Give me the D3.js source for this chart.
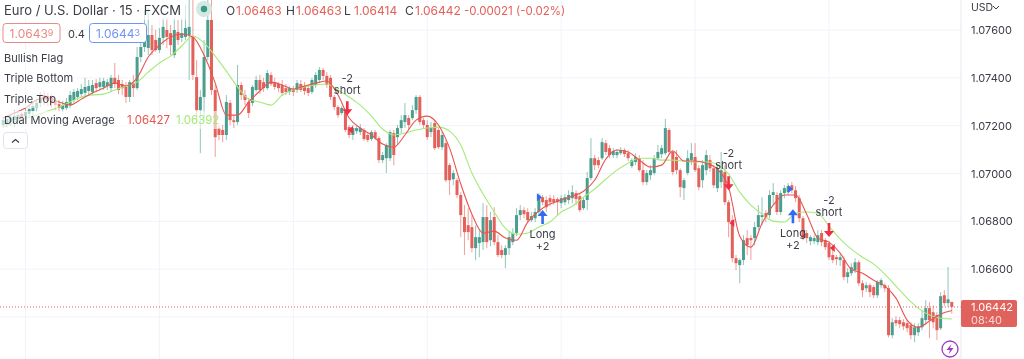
<!DOCTYPE html>
<html>
<head>
<meta charset="utf-8">
<script src="https://cdn.jsdelivr.net/npm/d3@7"></script>
<style>
  html, body { margin: 0; padding: 0; background: #fff; overflow: hidden; }
  svg { display: block; filter: blur(0.4px); font-family: Inter, "Open Sans", sans-serif; }
</style>
</head>
<body>
<div id="chart"></div>
<script>
// EUR/USD 15 min candles
var opens = [
1.07203,1.07207,1.07215,1.07223,1.07228,1.07249,1.07240,1.07249,1.07261,1.07274,
1.07295,1.07328,1.07324,1.07316,1.07303,1.07290,1.07269,1.07274,1.07286,1.07307,
1.07320,1.07332,1.07337,1.07345,1.07341,1.07378,1.07362,1.07362,1.07366,1.07357,
1.07400,1.07391,1.07374,1.07362,1.07320,1.07378,1.07357,1.07487,1.07529,1.07525,
1.07579,1.07558,1.07516,1.07567,1.07600,1.07587,1.07495,1.07592,1.07567,1.07571,
1.07579,1.07571,1.07403,1.07265,1.07320,1.07487,1.07642,1.07349,1.07190,1.07182,
1.07161,1.07295,1.07223,1.07215,1.07370,1.07328,1.07299,1.07295,1.07349,1.07391,
1.07382,1.07357,1.07412,1.07382,1.07374,1.07370,1.07357,1.07341,1.07353,1.07349,
1.07374,1.07366,1.07357,1.07341,1.07370,1.07391,1.07433,1.07408,1.07400,1.07320,
1.07278,1.07253,1.07257,1.07194,1.07161,1.07177,1.07173,1.07182,1.07161,1.07144,
1.07173,1.07148,1.07056,1.07064,1.07064,1.07169,1.07152,1.07190,1.07215,1.07232,
1.07232,1.07265,1.07320,1.07223,1.07203,1.07173,1.07211,1.07182,1.07110,1.07127,
1.07035,1.06976,1.06972,1.06910,1.06818,1.06784,1.06776,1.06688,1.06709,1.06713,
1.06818,1.06721,1.06818,1.06713,1.06680,1.06659,1.06688,1.06713,1.06751,1.06826,
1.06847,1.06839,1.06805,1.06813,1.06839,1.06901,1.06889,1.06897,1.06893,1.06893,
1.06876,1.06880,1.06889,1.06897,1.06918,1.06905,1.06855,1.06889,1.06981,1.07064,
1.07056,1.07064,1.07127,1.07106,1.07077,1.07077,1.07085,1.07098,1.07085,1.07031,
1.07048,1.07064,1.07014,1.06964,1.06993,1.07002,1.07064,1.07081,1.07085,1.07182,
1.07090,1.07069,1.07014,1.06939,1.07002,1.07056,1.07069,1.07022,1.06972,1.07014,
1.07056,1.07022,1.06939,1.06964,1.07006,1.06880,1.06805,1.06646,1.06617,1.06638,
1.06730,1.06730,1.06730,1.06776,1.06818,1.06834,1.06826,1.06910,1.06910,1.06839,
1.06918,1.06922,1.06951,1.06930,1.06897,1.06813,1.06751,1.06717,1.06717,1.06713,
1.06751,1.06721,1.06709,1.06659,1.06650,1.06638,1.06638,1.06567,1.06583,1.06596,
1.06629,1.06541,1.06520,1.06533,1.06525,1.06491,1.06533,1.06533,1.06520,1.06324,
1.06387,1.06387,1.06378,1.06374,1.06366,1.06324,1.06336,1.06357,1.06387,1.06437,
1.06420,1.06408,1.06353,1.06491,1.06458,1.06463
];
var highs = [
1.07236,1.07240,1.07249,1.07265,1.07257,1.07257,1.07274,1.07286,1.07299,1.07316,
1.07341,1.07345,1.07337,1.07332,1.07320,1.07307,1.07303,1.07316,1.07345,1.07353,
1.07357,1.07374,1.07400,1.07391,1.07391,1.07395,1.07400,1.07400,1.07395,1.07412,
1.07462,1.07412,1.07391,1.07382,1.07391,1.07412,1.07529,1.07621,1.07684,1.07692,
1.07621,1.07600,1.07608,1.07650,1.07650,1.07621,1.07650,1.07642,1.07650,1.07705,
1.07726,1.07726,1.07474,1.07349,1.07558,1.07726,1.07726,1.07370,1.07203,1.07203,
1.07328,1.07307,1.07244,1.07454,1.07382,1.07349,1.07316,1.07370,1.07408,1.07412,
1.07400,1.07433,1.07424,1.07400,1.07382,1.07391,1.07374,1.07366,1.07366,1.07391,
1.07391,1.07382,1.07370,1.07400,1.07424,1.07445,1.07441,1.07424,1.07412,1.07328,
1.07286,1.07282,1.07265,1.07203,1.07203,1.07198,1.07207,1.07190,1.07169,1.07182,
1.07182,1.07156,1.07090,1.07127,1.07182,1.07182,1.07203,1.07244,1.07295,1.07244,
1.07286,1.07328,1.07328,1.07232,1.07223,1.07215,1.07223,1.07190,1.07173,1.07140,
1.07043,1.07014,1.06981,1.06922,1.06868,1.06855,1.06826,1.06784,1.06763,1.06876,
1.06868,1.06839,1.06859,1.06742,1.06700,1.06700,1.06755,1.06771,1.06855,1.06868,
1.06859,1.06855,1.06839,1.06855,1.06918,1.06910,1.06905,1.06910,1.06910,1.06901,
1.06910,1.06914,1.06930,1.06951,1.06930,1.06918,1.06901,1.07006,1.07148,1.07077,
1.07069,1.07148,1.07140,1.07119,1.07106,1.07102,1.07110,1.07106,1.07098,1.07064,
1.07085,1.07077,1.07056,1.07014,1.07035,1.07077,1.07119,1.07119,1.07228,1.07190,
1.07098,1.07098,1.07022,1.06981,1.07098,1.07127,1.07127,1.07035,1.07056,1.07098,
1.07077,1.07035,1.07035,1.07090,1.07035,1.06889,1.06826,1.06659,1.06646,1.06742,
1.06763,1.06742,1.06797,1.06868,1.06901,1.06847,1.06930,1.06960,1.06922,1.06930,
1.06951,1.06960,1.06964,1.06947,1.06910,1.06822,1.06763,1.06742,1.06742,1.06763,
1.06763,1.06730,1.06717,1.06680,1.06659,1.06663,1.06654,1.06604,1.06625,1.06646,
1.06638,1.06554,1.06546,1.06541,1.06533,1.06554,1.06562,1.06541,1.06533,1.06395,
1.06403,1.06399,1.06391,1.06387,1.06378,1.06374,1.06374,1.06428,1.06470,1.06462,
1.06449,1.06420,1.06504,1.06512,1.06609,1.06463
];
var lows = [
1.07190,1.07194,1.07198,1.07194,1.07211,1.07215,1.07223,1.07232,1.07244,1.07257,
1.07278,1.07286,1.07282,1.07274,1.07265,1.07261,1.07257,1.07265,1.07274,1.07295,
1.07307,1.07316,1.07324,1.07328,1.07328,1.07341,1.07349,1.07349,1.07349,1.07341,
1.07357,1.07332,1.07328,1.07295,1.07299,1.07320,1.07349,1.07466,1.07508,1.07495,
1.07495,1.07508,1.07504,1.07537,1.07525,1.07495,1.07483,1.07537,1.07550,1.07558,
1.07391,1.07391,1.07223,1.07085,1.07223,1.07474,1.07328,1.07069,1.07140,1.07131,
1.07140,1.07203,1.07190,1.07203,1.07307,1.07286,1.07232,1.07282,1.07341,1.07332,
1.07341,1.07349,1.07366,1.07349,1.07341,1.07324,1.07328,1.07328,1.07324,1.07337,
1.07341,1.07328,1.07324,1.07332,1.07357,1.07378,1.07391,1.07357,1.07307,1.07265,
1.07232,1.07244,1.07173,1.07148,1.07140,1.07165,1.07161,1.07136,1.07131,1.07136,
1.07140,1.07043,1.07043,1.07002,1.07052,1.07035,1.07119,1.07169,1.07190,1.07182,
1.07223,1.07249,1.07203,1.07190,1.07140,1.07152,1.07098,1.07102,1.07098,1.06964,
1.06910,1.06951,1.06897,1.06734,1.06659,1.06721,1.06671,1.06638,1.06650,1.06680,
1.06688,1.06696,1.06700,1.06650,1.06646,1.06604,1.06659,1.06700,1.06738,1.06805,
1.06813,1.06793,1.06797,1.06797,1.06826,1.06868,1.06839,1.06863,1.06868,1.06826,
1.06855,1.06868,1.06872,1.06876,1.06868,1.06839,1.06847,1.06847,1.06972,1.07014,
1.07022,1.07056,1.07077,1.07064,1.07064,1.07064,1.07077,1.07069,1.07052,1.07022,
1.07035,1.07006,1.06951,1.06951,1.06972,1.06993,1.07056,1.07064,1.07077,1.07077,
1.06993,1.06997,1.06901,1.06889,1.06993,1.07035,1.07006,1.06930,1.06939,1.06993,
1.07006,1.06939,1.06922,1.06939,1.06868,1.06734,1.06629,1.06596,1.06541,1.06617,
1.06659,1.06638,1.06700,1.06763,1.06784,1.06797,1.06813,1.06868,1.06826,1.06826,
1.06897,1.06910,1.06918,1.06880,1.06797,1.06721,1.06709,1.06700,1.06705,1.06700,
1.06696,1.06680,1.06638,1.06625,1.06617,1.06613,1.06554,1.06541,1.06571,1.06583,
1.06529,1.06483,1.06504,1.06483,1.06479,1.06479,1.06520,1.06504,1.06315,1.06311,
1.06361,1.06353,1.06345,1.06336,1.06307,1.06295,1.06320,1.06345,1.06366,1.06311,
1.06353,1.06303,1.06345,1.06445,1.06441,1.06414
];
var closes = [
1.07223,1.07228,1.07232,1.07240,1.07244,1.07232,1.07257,1.07269,1.07282,1.07295,
1.07316,1.07307,1.07303,1.07295,1.07286,1.07274,1.07286,1.07299,1.07328,1.07341,
1.07345,1.07353,1.07362,1.07366,1.07370,1.07357,1.07382,1.07387,1.07382,1.07400,
1.07374,1.07349,1.07357,1.07320,1.07382,1.07357,1.07487,1.07529,1.07567,1.07579,
1.07516,1.07516,1.07567,1.07613,1.07571,1.07537,1.07600,1.07558,1.07587,1.07608,
1.07613,1.07412,1.07265,1.07320,1.07487,1.07642,1.07349,1.07152,1.07161,1.07161,
1.07299,1.07223,1.07215,1.07370,1.07328,1.07307,1.07253,1.07362,1.07391,1.07349,
1.07357,1.07420,1.07374,1.07362,1.07357,1.07337,1.07341,1.07357,1.07341,1.07378,
1.07349,1.07345,1.07337,1.07391,1.07412,1.07433,1.07408,1.07370,1.07320,1.07278,
1.07244,1.07274,1.07182,1.07161,1.07190,1.07190,1.07190,1.07144,1.07140,1.07173,
1.07148,1.07056,1.07077,1.07119,1.07173,1.07077,1.07190,1.07223,1.07244,1.07203,
1.07265,1.07320,1.07215,1.07203,1.07152,1.07194,1.07106,1.07110,1.07161,1.06972,
1.06972,1.07002,1.06910,1.06826,1.06755,1.06755,1.06688,1.06734,1.06734,1.06818,
1.06713,1.06805,1.06713,1.06659,1.06659,1.06688,1.06734,1.06751,1.06826,1.06847,
1.06830,1.06805,1.06822,1.06839,1.06910,1.06880,1.06859,1.06880,1.06880,1.06880,
1.06897,1.06901,1.06910,1.06922,1.06893,1.06847,1.06889,1.06981,1.07064,1.07035,
1.07035,1.07131,1.07090,1.07077,1.07094,1.07090,1.07098,1.07081,1.07064,1.07056,
1.07069,1.07014,1.06964,1.07002,1.07014,1.07064,1.07090,1.07106,1.07190,1.07090,
1.07006,1.07014,1.06943,1.06972,1.07064,1.07085,1.07014,1.06943,1.07035,1.07077,
1.07022,1.06951,1.07022,1.07014,1.06880,1.06797,1.06646,1.06625,1.06638,1.06721,
1.06700,1.06721,1.06776,1.06826,1.06826,1.06818,1.06910,1.06922,1.06839,1.06918,
1.06939,1.06947,1.06930,1.06897,1.06813,1.06730,1.06730,1.06734,1.06730,1.06742,
1.06713,1.06692,1.06650,1.06638,1.06642,1.06650,1.06567,1.06587,1.06608,1.06629,
1.06541,1.06512,1.06533,1.06504,1.06491,1.06546,1.06554,1.06520,1.06324,1.06378,
1.06374,1.06370,1.06361,1.06353,1.06324,1.06357,1.06361,1.06395,1.06437,1.06387,
1.06378,1.06345,1.06487,1.06458,1.06474,1.06442
];

// moving averages, sampled every third candle
var maStep = 3;
var fastMA = [
1.07232,1.07253,1.07274,1.07307,1.07316,1.07299,1.07286,1.07311,1.07337,1.07357,
1.07378,1.07366,1.07400,1.07487,1.07537,1.07571,1.07583,1.07571,1.07495,1.07378,
1.07244,1.07244,1.07299,1.07345,1.07382,1.07370,1.07353,1.07366,1.07378,1.07387,
1.07328,1.07232,1.07190,1.07161,1.07123,1.07110,1.07161,1.07223,1.07240,1.07203,
1.07106,1.06956,1.06830,1.06751,1.06759,1.06730,1.06721,1.06797,1.06843,1.06872,
1.06889,1.06905,1.06926,1.06972,1.07060,1.07098,1.07090,1.07056,1.07027,1.07035,
1.07094,1.07052,1.07052,1.07043,1.07018,1.06943,1.06738,1.06692,1.06792,1.06868,
1.06910,1.06910,1.06830,1.06730,1.06713,1.06667,1.06600,1.06583,1.06554,1.06529,
1.06479,1.06387,1.06357,1.06383,1.06412,1.06427
];
var slowMA = [
1.07194,1.07215,1.07232,1.07244,1.07261,1.07278,1.07299,1.07320,1.07328,1.07332,
1.07349,1.07366,1.07382,1.07424,1.07462,1.07491,1.07533,1.07575,1.07546,1.07491,
1.07428,1.07362,1.07311,1.07299,1.07286,1.07328,1.07349,1.07362,1.07370,1.07374,
1.07349,1.07320,1.07286,1.07240,1.07186,1.07161,1.07169,1.07182,1.07190,1.07194,
1.07177,1.07119,1.07002,1.06914,1.06839,1.06771,1.06746,1.06751,1.06776,1.06797,
1.06839,1.06863,1.06901,1.06935,1.06976,1.07014,1.07043,1.07064,1.07064,1.07056,
1.07056,1.07052,1.07048,1.07048,1.07039,1.06997,1.06922,1.06868,1.06830,1.06801,
1.06797,1.06834,1.06839,1.06834,1.06780,1.06726,1.06684,1.06650,1.06621,1.06579,
1.06529,1.06479,1.06437,1.06408,1.06395,1.06392
];

var priceTicks = [1.076, 1.074, 1.072, 1.070, 1.068, 1.066, 1.064];
var priceLabels = [1.076, 1.074, 1.072, 1.070, 1.068, 1.066]; // 1.064 sits under the price tag
var timeGridBars = [6, 42, 78, 114, 150, 186, 222];
var lastPrice = 1.06442;

// strategy signals: bar, price at the arrow tip, price of the small triangle
var shortBars = [92.5, 195, 222];
var shortPrices = [1.07244, 1.06930, 1.06734];
var shortFlagBars = [93.5, 196, 223];
var shortFlagPrices = [1.07182, 1.06793, 1.06688];
var longBars = [145, 212.3];
var longPrices = [1.06847, 1.06851];
var longFlagBars = [144, 211.5];
var longFlagPrices = [1.06901, 1.06935];

var legendRows = ["Bullish Flag", "Triple Bottom", "Triple Top", "Dual Moving Average"];
var ohlcLabels = ["O", "H", "L", "C"];
var ohlcValues = ["1.06463", "1.06463", "1.06414", "1.06442"];

var upColor = "#4a9e8e", downColor = "#e4605a", gridColor = "#f0f3fa", textColor = "#3a3d45";
var fastColor = "#e8554e", slowColor = "#a3ea78", blue = "#2f6bf5", arrowRed = "#ee2f45";

var width = 1024, height = 359, axisX = 961;

var svg = d3.select("#chart").append("svg")
    .attr("width", width)
    .attr("height", height);

svg.append("rect").attr("width", width).attr("height", height).attr("fill", "#fff");

var x = d3.scaleLinear().domain([0, 255]).range([3.18, 951.78]);
var y = d3.scaleLinear().domain([1.064, 1.076]).range([317, 30]);

var bars = d3.range(opens.length);

// grid
svg.append("g").selectAll("line")
    .data(priceTicks)
    .enter().append("line")
    .attr("x1", 0).attr("x2", axisX)
    .attr("y1", function(d) { return y(d); })
    .attr("y2", function(d) { return y(d); })
    .attr("stroke", gridColor);
svg.append("g").selectAll("line")
    .data(timeGridBars)
    .enter().append("line")
    .attr("x1", function(d) { return x(d); })
    .attr("x2", function(d) { return x(d); })
    .attr("y1", 0).attr("y2", height)
    .attr("stroke", gridColor);

// candles
var candles = svg.append("g");
candles.selectAll("line")
    .data(bars)
    .enter().append("line")
    .attr("x1", function(i) { return x(i); })
    .attr("x2", function(i) { return x(i); })
    .attr("y1", function(i) { return y(highs[i]); })
    .attr("y2", function(i) { return y(lows[i]); })
    .attr("stroke", function(i) { return closes[i] >= opens[i] ? upColor : downColor; })
    .attr("stroke-opacity", 0.6)
    .attr("stroke-width", 1);
candles.selectAll("rect")
    .data(bars)
    .enter().append("rect")
    .attr("x", function(i) { return x(i) - 1.5; })
    .attr("width", 3)
    .attr("y", function(i) { return y(Math.max(opens[i], closes[i])); })
    .attr("height", function(i) { return Math.max(1, Math.abs(y(opens[i]) - y(closes[i]))); })
    .attr("fill", function(i) { return closes[i] >= opens[i] ? upColor : downColor; });

// moving averages
var maLine = d3.line()
    .x(function(d, k) { return x(k * maStep); })
    .y(function(d) { return y(d); })
    .curve(d3.curveMonotoneX);
svg.append("path").attr("d", maLine(slowMA)).attr("fill", "none").attr("stroke", slowColor).attr("stroke-width", 1.1);
svg.append("path").attr("d", maLine(fastMA)).attr("fill", "none").attr("stroke", fastColor).attr("stroke-width", 1.1);

// last price line
svg.append("line")
    .attr("x1", 0).attr("x2", axisX)
    .attr("y1", y(lastPrice)).attr("y2", y(lastPrice))
    .attr("stroke", downColor)
    .attr("stroke-dasharray", "1,2");

// signal arrows
var arrowDown = "M-1.3,-14H1.3V-6H5L0,0L-5,-6H-1.3Z";
var arrowUp = "M-1.3,14H1.3V6H5L0,0L-5,6H-1.3Z";
shortBars.forEach(function(b, k) {
    var g = svg.append("g").attr("transform", "translate(" + x(b) + "," + y(shortPrices[k]) + ")");
    g.append("path").attr("d", arrowDown).attr("fill", arrowRed);
    g.append("text").attr("text-anchor", "middle").attr("y", -33).attr("font-size", 11).attr("fill", textColor).text("-2");
    g.append("text").attr("text-anchor", "middle").attr("y", -21).attr("font-size", 11).attr("fill", textColor).text("short");
    svg.append("path")
        .attr("transform", "translate(" + x(shortFlagBars[k]) + "," + y(shortFlagPrices[k]) + ")")
        .attr("d", "M-3,0L2,-4V4Z").attr("fill", arrowRed);
});
longBars.forEach(function(b, k) {
    var g = svg.append("g").attr("transform", "translate(" + x(b) + "," + y(longPrices[k]) + ")");
    g.append("path").attr("d", arrowUp).attr("fill", blue);
    g.append("text").attr("text-anchor", "middle").attr("y", 28).attr("font-size", 11).attr("fill", textColor).text("Long");
    g.append("text").attr("text-anchor", "middle").attr("y", 40).attr("font-size", 11).attr("fill", textColor).text("+2");
    svg.append("path")
        .attr("transform", "translate(" + x(longFlagBars[k]) + "," + y(longFlagPrices[k]) + ")")
        .attr("d", "M3,0L-2,-4V4Z").attr("fill", blue);
});

// price axis
svg.append("rect").attr("x", axisX).attr("width", width - axisX).attr("height", height).attr("fill", "#fff");
svg.append("line").attr("x1", axisX).attr("x2", axisX).attr("y1", 0).attr("y2", height).attr("stroke", "#e6e8ee");
var yAxis = svg.append("g")
    .attr("transform", "translate(" + axisX + ",0)")
    .call(d3.axisRight(y).tickValues(priceLabels).tickFormat(d3.format(".5f")).tickSize(0).tickPadding(10));
yAxis.select(".domain").remove();
yAxis.selectAll("text").attr("font-size", 11).attr("font-family", "Inter").attr("fill", textColor);

svg.append("text").attr("x", 971).attr("y", 11).attr("font-size", 10.5).attr("fill", textColor).text("USD");
svg.append("path").attr("d", "M993,6l3,3l3,-3").attr("fill", "none").attr("stroke", textColor);

// last price tag
svg.append("rect").attr("x", axisX).attr("y", 300).attr("width", 56).attr("height", 27).attr("rx", 2).attr("fill", "#e0625c");
svg.append("text").attr("x", 971).attr("y", 311).attr("font-size", 11).attr("fill", "#fff").text("1.06442");
svg.append("text").attr("x", 971).attr("y", 323.5).attr("font-size", 11).attr("fill", "#fff").attr("fill-opacity", 0.75).text("08:40");

// session dot
svg.append("circle").attr("cx", 204).attr("cy", 9).attr("r", 8).attr("fill", "#d3e8e3");
svg.append("circle").attr("cx", 204).attr("cy", 9).attr("r", 3.2).attr("fill", "#3b9a85");

// legend, rows have a thin white backing so candles fade behind them
function backing(bx, by, bw, bh) {
    svg.append("rect").attr("x", bx).attr("y", by).attr("width", bw).attr("height", bh)
        .attr("fill", "#fff").attr("fill-opacity", 0.6);
}
backing(0, 0, 188, 20);
backing(0, 49, 66, 18);
backing(0, 70, 78, 18);
backing(0, 90, 58, 18);
backing(0, 111, 222, 18);

svg.append("text").attr("x", 4).attr("y", 15).attr("font-size", 13).attr("fill", textColor)
    .text("Euro / U.S. Dollar \u00b7 15 \u00b7 FXCM");

var ohlcX = [226, 286, 344, 405];
ohlcLabels.forEach(function(l, k) {
    svg.append("text").attr("x", ohlcX[k]).attr("y", 15).attr("font-size", 12).attr("fill", textColor).text(l);
    svg.append("text").attr("x", ohlcX[k] + 10).attr("y", 15).attr("font-size", 12).attr("fill", downColor).text(ohlcValues[k]);
});
svg.append("text").attr("x", 464).attr("y", 15).attr("font-size", 11.5).attr("fill", downColor).text("-0.00021 (-0.02%)");

// bid and ask boxes
function quoteBox(bx, color, main, last) {
    svg.append("rect").attr("x", bx + 0.5).attr("y", 23.5).attr("width", 57).attr("height", 19).attr("rx", 3)
        .attr("fill", "#fff").attr("stroke", color);
    var t = svg.append("text").attr("x", bx + 29).attr("y", 38).attr("text-anchor", "middle").attr("font-size", 12).attr("fill", color);
    t.append("tspan").text(main);
    t.append("tspan").attr("font-size", 9).attr("dy", -2).text(last);
}
quoteBox(2.5, "#e88a86", "1.0643", "9");
quoteBox(89, "#6f94f3", "1.0644", "3");
svg.append("text").attr("x", 68).attr("y", 38).attr("font-size", 11).attr("fill", textColor).text("0.4");

svg.selectAll(".legendRow")
    .data(legendRows)
    .enter().append("text")
    .attr("class", "legendRow")
    .attr("x", 4)
    .attr("y", function(d, k) { return [62, 82, 103, 124][k]; })
    .attr("font-size", 11)
    .attr("fill", textColor)
    .text(function(d) { return d; });
svg.append("text").attr("x", 127).attr("y", 124).attr("font-size", 11.5).attr("fill", fastColor).text("1.06427");
svg.append("text").attr("x", 176).attr("y", 124).attr("font-size", 11.5).attr("fill", slowColor).text("1.06392");

// collapse button
svg.append("rect").attr("x", 3.5).attr("y", 132.5).attr("width", 24).attr("height", 16).attr("rx", 3)
    .attr("fill", "#fff").attr("stroke", "#e0e3eb");
svg.append("path").attr("d", "M12,142.5l3.5,-3l3.5,3").attr("fill", "none").attr("stroke", textColor).attr("stroke-width", 1.2);

// lightning badge
svg.append("circle").attr("cx", 950).attr("cy", 349).attr("r", 8).attr("fill", "#fff").attr("stroke", "#9c3dbb").attr("stroke-width", 1.3);
svg.append("path").attr("d", "M951.5,344L946.5,350H950L948.5,354.5L953.5,348H950Z").attr("fill", "#9c3dbb");
</script>
</body>
</html>
